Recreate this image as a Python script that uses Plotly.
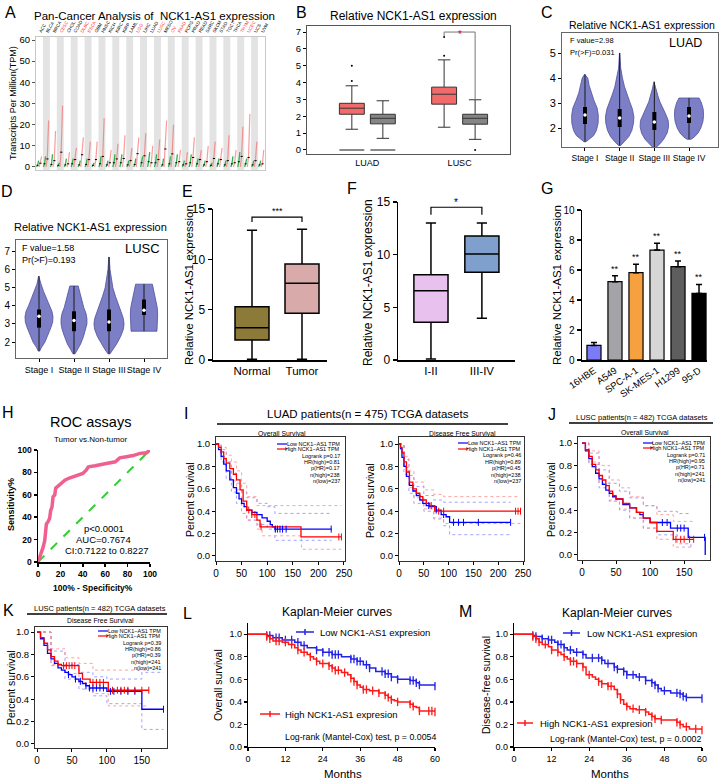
import plotly.graph_objects as go

W, H = 720, 783
FONT = "Liberation Sans, Arial, sans-serif"

# ===================== DATA =====================
# --- A: pan-cancer dot plot ---
pan_types = ["ACC", "BLCA", "BRCA", "CESC", "CHOL", "COAD", "DLBC", "ESCA", "GBM", "HNSC", "KICH",
             "KIRC", "KIRP", "LAML", "LGG", "LIHC", "LUAD", "LUSC", "MESO", "OV", "PAAD", "PCPG",
             "PRAD", "READ", "SARC", "SKCM", "STAD", "TGCT", "THCA", "THYM", "UCEC", "UCS", "UVM"]
pan_sig = ["CESC", "DLBC", "ESCA", "LGG", "LUSC", "OV", "PAAD", "THYM", "UCEC"]
pan_tumor_median = [1.8, 3.8, 3.0, 7.0, 1.5, 3.5, 5.8, 3.5, 3.5, 5.0, 2.0, 3.8, 4.0, 3.0, 6.3, 5.3, 2.0,
                    3.5, 8.5, 6.2, 2.5, 1.5, 4.5, 3.5, 2.5, 4.0, 3.5, 3.0, 2.0, 5.0, 4.5, 3.0, 1.5]
pan_tumor_max = [5, 22, 17, 29, 7, 9, 14, 12, 12, 23, 8, 11, 15, 9, 14, 16, 10, 13, 22, 20, 8, 7, 14, 8,
                 10, 12, 9, 15, 8, 19, 25, 12, 8]
pan_normal_median = [0.8, 1.5, 1.2, 0.8, 1.0, 1.5, 1.0, 1.2, 0.8, 1.5, 1.0, 2.0, 2.0, 1.0, 1.2, 2.0, 2.5,
                     2.0, 1.0, 1.5, 2.0, 1.0, 2.0, 1.5, 1.0, 0.8, 1.5, 1.0, 1.5, 2.5, 1.5, 1.0, 1.0]
pan_normal_max = [3, 5, 6, 2, 4, 4, 3, 4, 2, 5, 3, 6, 6, 3, 4, 5, 7, 6, 4, 5, 6, 3, 6, 4, 3, 2, 4, 3, 5, 7,
                  4, 3, 3]
pan_yticks = [0, 10, 20, 30, 40, 50, 60]

# --- B: GEPIA box plot ---
b_groups = ["LUAD", "LUSC"]
b_tumor_q1 = [2.12, 2.72]
b_tumor_median = [2.48, 3.31]
b_tumor_q3 = [2.77, 3.73]
b_tumor_low = [1.23, 1.35]
b_tumor_high = [3.81, 5.35]
b_normal_q1 = [1.55, 1.53]
b_normal_median = [1.88, 1.88]
b_normal_q3 = [2.12, 2.12]
b_normal_low = [0.69, 0.63]
b_normal_high = [2.92, 2.98]
b_tumor_outliers = [[4.1, 5.0], [5.6, 6.7]]
b_normal_outliers = [[], [0.0]]
b_zero_level = [0.0, None]   # zero-expression bar drawn under LUAD only
b_yticks = [0, 1, 2, 3, 4, 5, 6, 7]

# --- C: LUAD stage violins ---
stage_labels = ["Stage I", "Stage II", "Stage III", "Stage IV"]
c_violin_y = [[1.45, 1.55, 1.7, 1.9, 2.2, 2.5, 2.8, 3.1, 3.4, 3.7, 4.0, 4.15],
              [1.3, 1.45, 1.65, 1.9, 2.2, 2.45, 2.75, 3.05, 3.35, 3.65, 4.0, 4.4, 5.0],
              [1.2, 1.35, 1.55, 1.8, 2.05, 2.3, 2.55, 2.8, 3.05, 3.3, 3.55, 3.85],
              [1.55, 1.65, 1.8, 2.0, 2.25, 2.5, 2.75, 3.0, 3.2]]
c_violin_w = [[0.03, 0.12, 0.25, 0.33, 0.38, 0.385, 0.35, 0.26, 0.18, 0.12, 0.08, 0.01],
              [0.03, 0.14, 0.26, 0.35, 0.40, 0.41, 0.37, 0.29, 0.21, 0.14, 0.08, 0.03, 0.005],
              [0.03, 0.15, 0.27, 0.37, 0.41, 0.40, 0.33, 0.24, 0.16, 0.10, 0.06, 0.01],
              [0.06, 0.16, 0.26, 0.34, 0.40, 0.42, 0.41, 0.36, 0.29]]
c_q1 = [2.16, 2.04, 1.92, 2.2]
c_median = [2.52, 2.4, 2.24, 2.48]
c_q3 = [2.84, 2.76, 2.64, 2.84]

# --- D: LUSC stage violins ---
d_violin_y = [[1.5, 1.7, 2.0, 2.4, 2.8, 3.1, 3.4, 3.7, 4.0, 4.4, 4.8, 5.2, 5.65],
              [1.35, 1.6, 1.9, 2.3, 2.7, 3.0, 3.3, 3.6, 3.9, 4.3, 4.7, 5.1],
              [1.35, 1.6, 1.9, 2.3, 2.7, 3.0, 3.3, 3.7, 4.1, 4.5, 5.0, 5.5, 6.0, 6.7],
              [2.6, 3.0, 3.5, 3.9, 4.3, 4.7, 5.2]]
d_violin_w = [[0.02, 0.07, 0.17, 0.26, 0.34, 0.39, 0.40, 0.37, 0.30, 0.22, 0.13, 0.06, 0.01],
              [0.03, 0.10, 0.19, 0.27, 0.34, 0.37, 0.37, 0.34, 0.28, 0.22, 0.17, 0.12],
              [0.03, 0.12, 0.22, 0.33, 0.41, 0.43, 0.41, 0.34, 0.26, 0.19, 0.11, 0.06, 0.03, 0.005],
              [0.37, 0.38, 0.39, 0.38, 0.34, 0.29, 0.24]]
d_q1 = [2.8, 2.6, 2.6, 3.5]
d_median = [3.43, 3.19, 3.11, 3.76]
d_q3 = [3.8, 3.7, 3.8, 4.35]

# --- E: normal vs tumor ---
e_groups = ["Normal", "Tumor"]
e_q1 = [1.99, 4.64]
e_median = [3.21, 7.62]
e_q3 = [5.3, 9.54]
e_low = [0.07, 0.07]
e_high = [12.9, 13.0]
e_colors = ["#8B7A38", "#D9AAAA"]

# --- F: stage groups ---
f_groups = ["I-II", "III-IV"]
f_q1 = [3.59, 8.32]
f_median = [6.57, 10.06]
f_q3 = [8.1, 11.78]
f_low = [0.1, 3.97]
f_high = [13.0, 13.0]
f_colors = ["#E9C1EF", "#7F9FCD"]

# --- G: cell lines ---
g_cells = ["16HBE", "A549", "SPC-A-1", "SK-MES-1", "H1299", "95-D"]
g_values = [0.97, 5.22, 5.82, 7.33, 6.22, 4.44]
g_err = [0.19, 0.40, 0.56, 0.45, 0.38, 0.60]
g_colors = ["#7B7BF7", "#A3A3A8", "#F7A040", "#D6D6D6", "#5E5E5E", "#000000"]
g_sig = ["", "**", "**", "**", "**", "**"]

# --- H: ROC ---
roc_fpr = [0, 3, 4.5, 6, 7, 7.5, 9, 10.4, 11.3, 12.5, 13.4, 15, 15.8, 18, 21, 24, 28, 33, 37, 40, 43,
           45, 51, 55, 61, 69, 73, 79, 85, 91, 97, 100]
roc_tpr = [0, 7.5, 13, 19, 27, 34, 36, 39, 46, 49, 58, 60, 66, 68, 70, 73, 75, 77, 78, 79, 82, 85, 86,
           86.6, 88, 89.5, 93, 94, 95, 97, 97.6, 100]
roc_chance = [0, 100]

# --- I left: LUAD overall survival ---
luad_os_low_t = [0, 5, 10, 15, 20, 27, 34, 40, 45, 50, 55, 60, 70, 80, 90, 100, 106, 110, 115, 226]
luad_os_low_s = [1, 0.95, 0.89, 0.82, 0.76, 0.68, 0.61, 0.56, 0.51, 0.47, 0.44, 0.41, 0.39, 0.37, 0.34,
                 0.31, 0.28, 0.26, 0.24, 0.24]
luad_os_high_t = [0, 5, 10, 15, 20, 27, 34, 40, 47, 53, 60, 70, 80, 86, 166, 245]
luad_os_high_s = [1, 0.97, 0.93, 0.87, 0.83, 0.78, 0.73, 0.68, 0.59, 0.49, 0.41, 0.37, 0.32, 0.26, 0.17, 0.17]
luad_os_low_ci_t = [0, 10, 20, 30, 40, 50, 60, 80, 100, 115, 226]
luad_os_low_upper = [1, 0.95, 0.84, 0.74, 0.65, 0.57, 0.52, 0.47, 0.44, 0.38, 0.38]
luad_os_low_lower = [1, 0.84, 0.69, 0.57, 0.47, 0.38, 0.32, 0.28, 0.24, 0.14, 0.14]
luad_os_high_ci_t = [0, 10, 20, 30, 40, 50, 60, 80, 90, 167, 245]
luad_os_high_upper = [1, 0.97, 0.90, 0.84, 0.76, 0.65, 0.53, 0.45, 0.45, 0.45, 0.45]
luad_os_high_lower = [1, 0.89, 0.76, 0.67, 0.59, 0.44, 0.32, 0.24, 0.18, 0.06, 0.06]
luad_os_low_censor = [116, 120, 125, 130, 137, 225]
luad_os_high_censor = [64, 70, 76, 88, 240, 245]
luad_os_stats = ["Logrank p=0.17", "HR(high)=0.81", "p(HR)=0.17", "n(high)=238", "n(low)=237"]

# --- I right: LUAD disease free survival ---
luad_dfs_low_t = [0, 3, 6, 10, 15, 21, 28, 35, 42, 48, 55, 62, 75, 85, 95, 102, 225]
luad_dfs_low_s = [1, 0.96, 0.88, 0.80, 0.71, 0.63, 0.58, 0.54, 0.50, 0.47, 0.45, 0.44, 0.41, 0.37, 0.35,
                  0.30, 0.30]
luad_dfs_high_t = [0, 3, 6, 10, 15, 21, 28, 35, 42, 48, 55, 62, 72, 245]
luad_dfs_high_s = [1, 0.97, 0.92, 0.84, 0.75, 0.66, 0.60, 0.56, 0.53, 0.50, 0.47, 0.45, 0.40, 0.40]
luad_dfs_low_ci_t = [0, 10, 20, 30, 50, 70, 90, 102, 225]
luad_dfs_low_upper = [1, 0.86, 0.72, 0.62, 0.54, 0.50, 0.48, 0.48, 0.48]
luad_dfs_low_lower = [1, 0.73, 0.56, 0.47, 0.40, 0.33, 0.27, 0.19, 0.19]
luad_dfs_high_ci_t = [0, 10, 20, 30, 50, 70, 90, 245]
luad_dfs_high_upper = [1, 0.89, 0.76, 0.66, 0.59, 0.55, 0.53, 0.53]
luad_dfs_high_lower = [1, 0.79, 0.61, 0.52, 0.42, 0.34, 0.29, 0.29]
luad_dfs_low_censor = [60, 75, 90, 110, 120, 130, 160, 225]
luad_dfs_high_censor = [65, 80, 90, 235, 240, 245]
luad_dfs_stats = ["Logrank p=0.46", "HR(high)=0.89", "p(HR)=0.45", "n(high)=238", "n(low)=237"]

# --- J: LUSC overall survival ---
lusc_os_low_t = [0, 5, 10, 15, 20, 25, 30, 35, 40, 45, 50, 60, 70, 80, 85, 90, 100, 130, 156, 181, 181]
lusc_os_low_s = [1, 0.93, 0.86, 0.79, 0.73, 0.68, 0.63, 0.58, 0.55, 0.52, 0.50, 0.45, 0.42, 0.38, 0.36,
                 0.33, 0.29, 0.24, 0.157, 0.157, 0.0]
lusc_os_high_t = [0, 5, 10, 15, 20, 25, 30, 35, 40, 45, 50, 60, 70, 80, 90, 100, 110, 134, 164]
lusc_os_high_s = [1, 0.94, 0.88, 0.81, 0.76, 0.71, 0.67, 0.62, 0.57, 0.53, 0.50, 0.46, 0.42, 0.38, 0.33,
                  0.29, 0.21, 0.14, 0.14]
lusc_os_low_ci_t = [0, 10, 25, 40, 55, 70, 90, 110, 140, 160]
lusc_os_low_upper = [1, 0.91, 0.76, 0.64, 0.57, 0.51, 0.44, 0.39, 0.37, 0.37]
lusc_os_low_lower = [1, 0.81, 0.60, 0.48, 0.40, 0.33, 0.24, 0.18, 0.10, 0.05]
lusc_os_high_ci_t = [0, 10, 25, 40, 55, 70, 90, 110, 134, 164]
lusc_os_high_upper = [1, 0.93, 0.80, 0.67, 0.60, 0.52, 0.44, 0.36, 0.30, 0.30]
lusc_os_high_lower = [1, 0.83, 0.64, 0.49, 0.41, 0.33, 0.24, 0.14, 0.07, 0.07]
lusc_os_low_censor = [118, 125, 140, 145, 150, 180]
lusc_os_high_censor = [138, 145, 150, 158, 164]
lusc_os_stats = ["Logrank p=0.71", "HR(high)=0.95", "p(HR)=0.71", "n(high)=241", "n(low)=241"]

# --- K: LUSC disease free survival ---
lusc_dfs_low_t = [0, 5, 10, 15, 20, 25, 30, 35, 40, 45, 50, 55, 60, 65, 70, 75, 100, 150, 181]
lusc_dfs_low_s = [1, 0.94, 0.88, 0.81, 0.76, 0.72, 0.68, 0.66, 0.64, 0.62, 0.60, 0.58, 0.56, 0.54, 0.52,
                  0.50, 0.47, 0.31, 0.31]
lusc_dfs_high_t = [0, 5, 10, 15, 20, 25, 30, 35, 60, 65, 76, 102, 160]
lusc_dfs_high_s = [1, 0.95, 0.90, 0.84, 0.78, 0.74, 0.71, 0.70, 0.63, 0.58, 0.55, 0.48, 0.48]
lusc_dfs_low_ci_t = [0, 20, 40, 60, 80, 100, 150, 181]
lusc_dfs_low_upper = [1, 0.83, 0.71, 0.64, 0.60, 0.58, 0.64, 0.64]
lusc_dfs_low_lower = [1, 0.70, 0.58, 0.49, 0.43, 0.36, 0.13, 0.13]
lusc_dfs_high_ci_t = [0, 20, 40, 60, 80, 102, 160]
lusc_dfs_high_upper = [1, 0.85, 0.77, 0.72, 0.66, 0.66, 0.66]
lusc_dfs_high_lower = [1, 0.71, 0.63, 0.55, 0.45, 0.34, 0.34]
lusc_dfs_low_censor = [45, 55, 62, 70, 75, 80, 85, 90, 95, 105, 110, 120, 130, 140, 181]
lusc_dfs_high_censor = [38, 42, 46, 50, 54, 80, 85, 90, 95, 108, 115, 120, 125, 130, 140, 150, 160]
lusc_dfs_stats = ["Logrank p=0.39", "HR(high)=0.86", "p(HR)=0.39", "n(high)=241", "n(low)=241"]

gepia_x_ticks_250 = [0, 50, 100, 150, 200, 250]
gepia_x_ticks_150 = [0, 50, 100, 150]
surv_ticks = [0.0, 0.2, 0.4, 0.6, 0.8, 1.0]

# --- L: overall survival (cohort) ---
l_low_t = [0, 6, 8, 11, 15, 17, 19, 22, 24, 27, 30, 33, 35, 37, 39, 41, 44, 46, 48, 52, 54, 55, 60]
l_low_s = [1.0, 0.99, 0.97, 0.95, 0.93, 0.90, 0.88, 0.86, 0.84, 0.82, 0.80, 0.78, 0.76, 0.73, 0.70, 0.67,
           0.65, 0.62, 0.60, 0.59, 0.57, 0.55, 0.54]
l_high_t = [0, 6, 7, 8, 11, 13, 15, 16, 17, 19, 20, 21, 22, 23, 26, 27, 28, 30, 32, 33, 34, 35, 36, 37, 39,
            42, 44, 45, 46, 47, 48, 52, 53, 54, 55, 60]
l_high_s = [1.0, 0.98, 0.96, 0.94, 0.93, 0.91, 0.88, 0.86, 0.84, 0.82, 0.80, 0.78, 0.76, 0.74, 0.72, 0.70,
            0.68, 0.66, 0.64, 0.61, 0.58, 0.55, 0.53, 0.51, 0.50, 0.48, 0.46, 0.44, 0.42, 0.41, 0.40, 0.38,
            0.36, 0.35, 0.32, 0.31]
l_low_censor = [6, 7, 9, 10, 12, 14, 16, 18, 22, 24, 26, 27, 28, 29, 33, 34, 35, 36, 38, 39, 43, 44, 45,
                46, 48, 52, 53, 54, 55, 60]
l_high_censor = [6, 7, 9, 10, 12, 14, 16, 18, 20, 22, 24, 26, 27, 28, 29, 31, 33, 34, 35, 37, 38, 40, 42,
                 44, 45, 46, 48, 52, 53, 55, 58, 59, 60]

# --- M: disease-free survival (cohort) ---
m_low_t = [0, 6, 7, 9, 11, 13, 14, 16, 17, 19, 22, 23, 28, 29, 32, 33, 35, 36, 39, 42, 44, 45, 46, 47, 50,
           53, 54, 55, 60]
m_low_s = [1.0, 0.99, 0.98, 0.96, 0.95, 0.93, 0.91, 0.88, 0.86, 0.84, 0.82, 0.79, 0.77, 0.74, 0.71, 0.69,
           0.67, 0.64, 0.62, 0.59, 0.57, 0.55, 0.52, 0.50, 0.48, 0.47, 0.45, 0.44, 0.43]
m_high_t = [0, 6, 7, 8, 9, 11, 12, 14, 15, 16, 17, 18, 20, 22, 23, 25, 26, 27, 28, 30, 32, 33, 34, 35, 36,
            37, 39, 42, 43, 44, 45, 47, 52, 53, 54, 56, 60]
m_high_s = [1.0, 0.98, 0.96, 0.93, 0.91, 0.89, 0.86, 0.84, 0.82, 0.80, 0.78, 0.76, 0.74, 0.71, 0.64, 0.62,
            0.60, 0.58, 0.56, 0.54, 0.51, 0.47, 0.42, 0.38, 0.36, 0.34, 0.33, 0.31, 0.29, 0.27, 0.25, 0.24,
            0.22, 0.20, 0.18, 0.16, 0.15]
m_low_censor = [6, 7, 9, 11, 12, 14, 15, 16, 18, 20, 22, 25, 27, 28, 30, 32, 33, 35, 36, 38, 40, 42, 44,
                45, 46, 48, 52, 53, 54, 55, 60]
m_high_censor = [6, 7, 8, 10, 12, 14, 16, 18, 19, 20, 22, 24, 27, 28, 30, 31, 33, 34, 36, 38, 40, 42, 44,
                 45, 47, 52, 53, 55, 58, 60]
month_ticks = [0, 12, 24, 36, 48, 60]

# ===================== HELPERS =====================
fig = go.Figure()
annotations = []
shapes = []
axes = {}


def sid(n):
    return '' if n == 1 else str(n)


def ann(text, x, y, size, color='black', xanchor='center', yanchor='middle', angle=0):
    annotations.append(dict(text=text, x=x / W, y=1 - y / H, xref='paper', yref='paper',
                            showarrow=False, xanchor=xanchor, yanchor=yanchor, textangle=angle,
                            font=dict(size=size, color=color, family=FONT)))


def annd(n, text, x, y, size, color='black', yshift=0):
    annotations.append(dict(text=text, x=x, y=y, xref='x' + sid(n), yref='y' + sid(n), showarrow=False,
                            yshift=yshift, font=dict(size=size, color=color, family=FONT)))


def pline(x0, y0, x1, y1, color='black', width=1):
    shapes.append(dict(type='line', xref='paper', yref='paper', x0=x0 / W, y0=1 - y0 / H,
                       x1=x1 / W, y1=1 - y1 / H, line=dict(color=color, width=width)))


def tr(n, **kw):
    kw.setdefault('showlegend', False)
    kw.setdefault('hoverinfo', 'skip')
    fig.add_trace(go.Scatter(xaxis='x' + sid(n), yaxis='y' + sid(n), **kw))


def box(n, pos, q1, med, q3, lo, hi, width, fill, lc, lw=1.0, ww=0.5):
    fig.add_trace(go.Box(x=[pos], q1=[q1], median=[med], q3=[q3], lowerfence=[lo], upperfence=[hi],
                         orientation='v', width=width, fillcolor=fill, line=dict(color=lc, width=lw),
                         whiskerwidth=ww, boxpoints=False, showlegend=False, hoverinfo='skip',
                         xaxis='x' + sid(n), yaxis='y' + sid(n)))


def set_axes(n, xpx, ypx, xr, yr, xkw=None, ykw=None):
    base = dict(showgrid=False, zeroline=False, ticks='outside', ticklen=3, tickwidth=1, automargin=False,
                tickcolor='black', linecolor='black', linewidth=1, showline=True, fixedrange=True,
                tickfont=dict(family=FONT, size=10, color='black'))
    xa = dict(base)
    xa.update(domain=[xpx[0] / W, xpx[1] / W], range=xr, anchor='y' + sid(n))
    ya = dict(base)
    ya.update(domain=[1 - ypx[1] / H, 1 - ypx[0] / H], range=yr, anchor='x' + sid(n))
    if xkw:
        xa.update(xkw)
    if ykw:
        ya.update(ykw)
    axes['xaxis' + sid(n)] = xa
    axes['yaxis' + sid(n)] = ya


def step_val(ts, ss, t):
    v = ss[0]
    for a, b in zip(ts, ss):
        if a <= t:
            v = b
        else:
            break
    return v


def tf(size):
    return dict(family=FONT, size=size, color='black')


# ===================== A =====================
xs_g, ys_g, xs_r, ys_r, xs_m, ys_m = [], [], [], [], [], []
for i in range(len(pan_types)):
    xs_g += [i - 0.42, i - 0.27, i - 0.12, None]
    ys_g += [0, pan_normal_median[i], pan_normal_max[i], None]
    xs_r += [i - 0.05, i + 0.12, i + 0.32, None]
    ys_r += [0, pan_tumor_median[i], pan_tumor_max[i], None]
    xs_m += [i - 0.02, i + 0.3, None, i - 0.42, i - 0.14, None]
    ys_m += [pan_tumor_median[i], pan_tumor_median[i], None, pan_normal_median[i], pan_normal_median[i], None]
    if i % 2 == 1:
        shapes.append(dict(type='rect', xref='x', yref='y domain', x0=i - 0.5, x1=i + 0.5, y0=0, y1=1,
                           fillcolor='#E3E3E3', line=dict(width=0), layer='below'))
tr(1, x=xs_r, y=ys_r, mode='lines', line=dict(color='rgba(245,90,90,0.6)', width=1.2))
tr(1, x=xs_g, y=ys_g, mode='lines', line=dict(color='#2DB34A', width=1.3))
tr(1, x=xs_m, y=ys_m, mode='lines', line=dict(color='black', width=1))
pan_ticktext = ["<span style='color:#FF3030'>%s</span>" % t if t in pan_sig else t for t in pan_types]
set_axes(1, (36, 265), (37, 170), [-0.5, len(pan_types) - 0.5], [-1.42, 61.42],
         xkw=dict(tickvals=list(range(len(pan_types))), ticktext=pan_ticktext, side='top', tickangle=-60,
                  ticks='', tickfont=tf(4.5), linecolor='#C8C8C8', mirror=True),
         ykw=dict(tickvals=pan_yticks, tickfont=tf(9.5), linecolor='#C8C8C8', mirror=True, tickcolor='#555'))
ann("A", 10, 13, 16)
ann("Pan-Cancer Analysis of  NCK1-AS1 expression", 154, 16, 11.5)
ann("Transcripts Per Million(TPM)", 13, 103, 9, angle=-90)

# ===================== B =====================
b_off = 0.168
for k in range(2):
    pos = k + 1
    box(2, pos - b_off, b_tumor_q1[k], b_tumor_median[k], b_tumor_q3[k], b_tumor_low[k], b_tumor_high[k],
        0.27, '#F26B6B', '#333333', 1.0)
    box(2, pos + b_off, b_normal_q1[k], b_normal_median[k], b_normal_q3[k], b_normal_low[k],
        b_normal_high[k], 0.27, '#858585', '#333333', 1.0)
    if b_zero_level[k] is not None:
        for p in (pos - b_off, pos + b_off):
            box(2, p, b_zero_level[k], b_zero_level[k], b_zero_level[k], b_zero_level[k], b_zero_level[k],
                0.27, '#777777', '#666666', 1.5)
    tr(2, x=[pos - b_off] * len(b_tumor_outliers[k]), y=b_tumor_outliers[k], mode='markers',
       marker=dict(color='black', size=2))
    tr(2, x=[pos + b_off] * len(b_normal_outliers[k]), y=b_normal_outliers[k], mode='markers',
       marker=dict(color='black', size=2))
set_axes(2, (307, 510), (26, 154), [0.346, 2.546], [-0.24, 7.36],
         xkw=dict(tickvals=[1, 2], ticktext=b_groups, ticks='', tickfont=tf(9), mirror=True,
                  linecolor='#555'),
         ykw=dict(tickvals=b_yticks, tickfont=tf(9.5), mirror=True, linecolor='#555'))
shapes.append(dict(type='path', xref='x2', yref='y2', line=dict(color='#777', width=1),
                   path='M %f,%f L %f,%f L %f,%f L %f,%f' % (2 - b_off, 6.75, 2 - b_off, 7.0, 2 + b_off, 7.0,
                                                             2 + b_off, 3.0)))
annd(2, "*", 2, 7.0, 10, color='red', yshift=-2)
ann("B", 301, 12, 16)
ann("Relative NCK1-AS1 expression", 414, 16, 12)


# ===================== C & D violins =====================
def violins(n, ys_list, ws_list, q1s, meds, q3s):
    for k in range(4):
        pos = k + 1
        ys, ws = ys_list[k], ws_list[k]
        xs = [pos + w for w in ws] + [pos - w for w in reversed(ws)]
        yy = list(ys) + list(reversed(ys))
        tr(n, x=xs + [xs[0]], y=yy + [yy[0]], mode='lines', fill='toself', fillcolor='#7C7FC6',
           line=dict(color='#4E519E', width=0.8))
        tr(n, x=[pos, pos], y=[ys[0], ys[-1]], mode='lines', line=dict(color='#1a1a1a', width=1))
        tr(n, x=[pos, pos], y=[q1s[k], q3s[k]], mode='lines', line=dict(color='black', width=4))
        tr(n, x=[pos], y=[meds[k]], mode='markers', marker=dict(color='white', size=3.5))


violins(3, c_violin_y, c_violin_w, c_q1, c_median, c_q3)
set_axes(3, (562, 718), (33, 147), [0.337, 4.836], [1.24, 5.8],
         xkw=dict(tickvals=[1, 2, 3, 4], ticktext=stage_labels, tickfont=tf(8.5), tickangle=0,
                  mirror=True, linecolor='#666'),
         ykw=dict(tickvals=[2, 3, 4, 5], tickfont=tf(11), mirror=True, linecolor='#666'))
ann("C", 547, 13, 16)
ann("Relative NCK1-AS1 expression", 642, 25, 10.5)
ann("F value=2.98", 568, 40, 7.5, xanchor='left')
ann("Pr(>F)=0.031", 568, 52, 7.5, xanchor='left')
ann("LUAD", 685, 43, 12.5)

violins(4, d_violin_y, d_violin_w, d_q1, d_median, d_q3)
set_axes(4, (16, 167), (240, 358), [0.343, 4.657], [1.12, 7.64],
         xkw=dict(tickvals=[1, 2, 3, 4], ticktext=stage_labels, tickfont=tf(9), tickangle=0,
                  mirror=True, linecolor='#666'),
         ykw=dict(tickvals=[2, 3, 4, 5, 6, 7], tickfont=tf(10), mirror=True, linecolor='#666'))
ann("D", 7, 192, 16)
ann("Relative NCK1-AS1 expression", 90, 227, 11)
ann("F value=1.58", 20, 248, 9, xanchor='left')
ann("Pr(>F)=0.193", 20, 260, 9, xanchor='left')
ann("LUSC", 142, 248, 13)

# ===================== E =====================
for k in range(2):
    box(5, k, e_q1[k], e_median[k], e_q3[k], e_low[k], e_high[k], 0.68, e_colors[k], 'black', 1.5, 0.3)
set_axes(5, (213, 327), (209, 360), [-0.78, 1.5], [0, 15],
         xkw=dict(tickvals=[0, 1], ticktext=e_groups, ticks='', tickfont=tf(11.5), linewidth=1.5),
         ykw=dict(tickvals=[0, 5, 10, 15], tickfont=tf(12), linewidth=1.5, tickwidth=1.5, ticklen=4))
shapes.append(dict(type='path', xref='x5', yref='y5', line=dict(color='black', width=1.2),
                   path='M 0,13.7 L 0,14.2 L 1,14.2 L 1,13.7'))
annd(5, "***", 0.5, 14.2, 9, yshift=6)
ann("E", 187, 192, 16)
ann("Relative NCK1-AS1 expression", 189, 285, 11.5, angle=-90)

# ===================== F =====================
for k in range(2):
    box(6, k, f_q1[k], f_median[k], f_q3[k], f_low[k], f_high[k], 0.67, f_colors[k], 'black', 1.5, 0.3)
set_axes(6, (398, 515), (202, 360), [-0.647, 1.65], [0, 15],
         xkw=dict(tickvals=[0, 1], ticktext=f_groups, ticks='', tickfont=tf(11.5), linewidth=1.5),
         ykw=dict(tickvals=[0, 5, 10, 15], tickfont=tf(12), linewidth=1.5, tickwidth=1.5, ticklen=4))
shapes.append(dict(type='path', xref='x6', yref='y6', line=dict(color='black', width=1.2),
                   path='M 0,13.8 L 0,14.5 L 1,14.5 L 1,13.8'))
annd(6, "*", 0.5, 14.5, 10, yshift=5)
ann("F", 352, 188, 16)
ann("Relative NCK1-AS1 expression", 368, 283, 12, angle=-90)

# ===================== G =====================
fig.add_trace(go.Bar(x=list(range(len(g_cells))), y=g_values, width=0.67,
                     marker=dict(color=g_colors, line=dict(color='black', width=1.2)),
                     error_y=dict(type='data', symmetric=False, array=g_err,
                                  arrayminus=[0] * len(g_err), color='black', thickness=1.5, width=3),
                     xaxis='x7', yaxis='y7', showlegend=False, hoverinfo='skip'))
for i in range(len(g_cells)):
    if g_sig[i]:
        annd(7, g_sig[i], i, g_values[i] + g_err[i], 9, yshift=7)
set_axes(7, (582, 707), (210, 360), [-0.57, 5.38], [0, 10],
         xkw=dict(tickvals=list(range(len(g_cells))), ticktext=g_cells, ticks='', tickangle=-35,
                  tickfont=tf(9.5), linewidth=1.5),
         ykw=dict(tickvals=[0, 2, 4, 6, 8, 10], tickfont=tf(10), linewidth=1.5, tickwidth=1.5, ticklen=4))
ann("G", 547, 188, 16)
ann("Relative NCK1-AS1 expression", 557, 285, 11.5, angle=-90)

# ===================== H =====================
tr(8, x=roc_chance, y=roc_chance, mode='lines', line=dict(color='#33CC33', width=2, dash='dash'))
tr(8, x=roc_fpr, y=roc_tpr, mode='lines', line=dict(color='#F0608E', width=3.5), cliponaxis=False)
h_ticks = [0, 20, 40, 60, 80, 100]
set_axes(8, (38, 150), (450, 562), [0, 100], [0, 100],
         xkw=dict(tickvals=h_ticks, ticktext=['<b>%d</b>' % v for v in h_ticks], tickfont=tf(8.5),
                  linewidth=1.5, tickwidth=1.5),
         ykw=dict(tickvals=h_ticks, ticktext=['<b>%d</b>' % v for v in h_ticks], tickfont=tf(8.5),
                  linewidth=1.5, tickwidth=1.5))
ann("H", 8, 412, 16)
ann("ROC assays", 90, 422, 14.5)
ann("Tumor vs.Non-tumor", 90, 439, 8)
ann("<b>Sensitivity%</b>", 11, 505, 9, angle=-90)
ann("<b>100% - Specificity%</b>", 93, 588, 8.5)
ann("p<0.0001", 104, 528, 9.5)
ann("AUC=0.7674", 103, 539, 9.5)
ann("CI:0.7122 to 0.8227", 106, 550, 9.5)


# ===================== GEPIA KM (I, J, K) =====================
def gepia(n, low_t, low_s, high_t, high_s, lci_t, l_up, l_lo, hci_t, h_up, h_lo, l_cens, h_cens):
    for t, u, lo, c in ((lci_t, l_up, l_lo, '#8A8AFF'), (hci_t, h_up, h_lo, '#FF8A8A')):
        tr(n, x=t, y=u, mode='lines', line=dict(color=c, width=0.8, dash='dot', shape='hv'))
        tr(n, x=t, y=lo, mode='lines', line=dict(color=c, width=0.8, dash='dot', shape='hv'))
    tr(n, x=low_t, y=low_s, mode='lines', line=dict(color='#0000FF', width=1.3, shape='hv'))
    tr(n, x=high_t, y=high_s, mode='lines', line=dict(color='#FF0000', width=1.3, shape='hv'))
    tr(n, x=l_cens, y=[step_val(low_t, low_s, t) for t in l_cens], mode='markers',
       marker=dict(symbol='line-ns', size=5, line=dict(color='#0000FF', width=1)))
    tr(n, x=h_cens, y=[step_val(high_t, high_s, t) for t in h_cens], mode='markers',
       marker=dict(symbol='line-ns', size=5, line=dict(color='#FF0000', width=1)))


def gepia_legend(xl0, xt_right, rows, stats):
    pline(xl0, rows[0], xl0 + 10, rows[0], '#0000FF', 1.2)
    pline(xl0, rows[1], xl0 + 10, rows[1], '#FF0000', 1.2)
    ann("Low NCK1\u2212AS1 TPM", xt_right, rows[0], 5.5, xanchor='right')
    ann("High NCK1\u2212AS1 TPM", xt_right, rows[1], 5.5, xanchor='right')
    for r, s in zip(rows[2:], stats):
        ann(s, xt_right, r, 5.5, xanchor='right')


def gepia_axes(n, xpx, ypx, xr, yr, xt):
    set_axes(n, xpx, ypx, xr, yr,
             xkw=dict(tickvals=xt, tickfont=tf(10), mirror=True, linecolor='#333'),
             ykw=dict(tickvals=surv_ticks, tickformat='.1f', tickfont=tf(9.5), mirror=True,
                      linecolor='#333'))


gepia(9, luad_os_low_t, luad_os_low_s, luad_os_high_t, luad_os_high_s, luad_os_low_ci_t,
      luad_os_low_upper, luad_os_low_lower, luad_os_high_ci_t, luad_os_high_upper, luad_os_high_lower,
      luad_os_low_censor, luad_os_high_censor)
gepia_axes(9, (216, 345), (437, 561), [0, 252], [-0.045, 1.0625], gepia_x_ticks_250)
gepia_legend(277, 342, [444, 449, 456, 462, 468, 475, 481], luad_os_stats)

gepia(10, luad_dfs_low_t, luad_dfs_low_s, luad_dfs_high_t, luad_dfs_high_s, luad_dfs_low_ci_t,
      luad_dfs_low_upper, luad_dfs_low_lower, luad_dfs_high_ci_t, luad_dfs_high_upper, luad_dfs_high_lower,
      luad_dfs_low_censor, luad_dfs_high_censor)
gepia_axes(10, (399, 524), (437, 561), [0, 252], [-0.045, 1.0625], gepia_x_ticks_250)
gepia_legend(458, 523, [443, 449, 455, 462, 468, 475, 481], luad_dfs_stats)

ann("I", 186, 413, 16)
ann("LUAD patients(n = 475) TCGA datasets", 368, 414, 11.5)
pline(217, 424, 508, 424, 'black', 1.5)
ann("Overall Survival", 282, 433, 6.8)
ann("Disease Free Survival", 462, 433, 6.8)
ann("Percent survival", 190, 500, 10.5, angle=-90)
ann("Percent survival", 370, 500, 10.5, angle=-90)

gepia(11, lusc_os_low_t, lusc_os_low_s, lusc_os_high_t, lusc_os_high_s, lusc_os_low_ci_t,
      lusc_os_low_upper, lusc_os_low_lower, lusc_os_high_ci_t, lusc_os_high_upper, lusc_os_high_lower,
      lusc_os_low_censor, lusc_os_high_censor)
gepia_axes(11, (578, 710), (437, 560), [-5.9, 188], [-0.045, 1.054], gepia_x_ticks_150)
gepia_legend(643, 707, [443, 448, 455, 461, 467, 474, 480], lusc_os_stats)
ann("J", 552, 415, 16)
ann("LUSC patients(n = 482) TCGA datasets", 642, 417, 7.5)
pline(569, 423, 713, 423, 'black', 1.5)
ann("Overall Survival", 645, 432, 6.8)
ann("Percent survival", 551, 500, 10.5, angle=-90)

gepia(12, lusc_dfs_low_t, lusc_dfs_low_s, lusc_dfs_high_t, lusc_dfs_high_s, lusc_dfs_low_ci_t,
      lusc_dfs_low_upper, lusc_dfs_low_lower, lusc_dfs_high_ci_t, lusc_dfs_high_upper, lusc_dfs_high_lower,
      lusc_dfs_low_censor, lusc_dfs_high_censor)
gepia_axes(12, (35, 167), (627, 748), [-2.9, 186], [-0.036, 1.045], gepia_x_ticks_150)
gepia_legend(98, 163, [631, 636, 643, 649, 655, 662, 668], lusc_dfs_stats)
ann("K", 8, 610, 16)
ann("LUSC patients(n = 482) TCGA datasets", 100, 608, 7.5)
pline(27, 614, 167, 614, 'black', 1.5)
ann("Disease Free Survival", 100, 620, 6.8)
ann("Percent survival", 11, 688, 10.5, angle=-90)


# ===================== L & M =====================
def km(n, low_t, low_s, high_t, high_s, low_c, high_c):
    for t, s, c, cens in ((low_t, low_s, '#2323E6', low_c), (high_t, high_s, '#FF1A1A', high_c)):
        tr(n, x=t, y=s, mode='lines', line=dict(color=c, width=1.5, shape='hv'), cliponaxis=False)
        tr(n, x=cens, y=[step_val(t, s, v) for v in cens], mode='markers', cliponaxis=False,
           marker=dict(symbol='line-ns', size=6, line=dict(color=c, width=1.3)))


def km_axes(n, xpx):
    set_axes(n, xpx, (623, 747), [0, 60], [0, 1.1],
             xkw=dict(tickvals=month_ticks, tickfont=tf(9), linewidth=1.3, tickwidth=1.3),
             ykw=dict(tickvals=surv_ticks, tickformat='.1f', tickfont=tf(9), linewidth=1.3, tickwidth=1.3))


def km_legend_mark(x0, x1, y, color):
    pline(x0, y, x1, y, color, 1.5)
    xm = (x0 + x1) / 2
    pline(xm, y - 3, xm, y + 3, color, 1.5)


km(13, l_low_t, l_low_s, l_high_t, l_high_s, l_low_censor, l_high_censor)
km_axes(13, (248, 435))
ann("L", 187, 613, 16)
ann("Kaplan-Meier curves", 337, 612, 12)
ann("Overall survival", 218, 685, 10.5, angle=-90)
ann("Months", 343, 774, 11.5)
km_legend_mark(296, 314, 632, '#2323E6')
ann("Low NCK1-AS1 expresion", 318, 632, 9.5, xanchor='left')
km_legend_mark(260, 280, 714, '#FF1A1A')
ann("High NCK1-AS1 expresion", 283, 714, 9.5, xanchor='left')
ann("Log-rank (Mantel-Cox) test, p = 0.0054", 438, 737, 8.8, xanchor='right')

km(14, m_low_t, m_low_s, m_high_t, m_high_s, m_low_censor, m_high_censor)
km_axes(14, (514, 702))
ann("M", 465, 611, 16)
ann("Kaplan-Meier curves", 617, 613, 12)
ann("Disease-free survival", 486, 685, 10.5, angle=-90)
ann("Months", 610, 774, 11.5)
km_legend_mark(563, 580, 633, '#2323E6')
ann("Low NCK1-AS1 expresion", 585, 633, 9.5, xanchor='left')
km_legend_mark(517, 533, 723, '#FF1A1A')
ann("High NCK1-AS1 expresion", 538, 723, 9.5, xanchor='left')
ann("Log-rank (Mantel-Cox) test, p = 0.0002", 703, 739, 8.8, xanchor='right')

# ===================== LAYOUT =====================
fig.update_layout(width=W, height=H, margin=dict(l=0, r=0, t=0, b=0),
                  paper_bgcolor='white', plot_bgcolor='white', showlegend=False, hovermode=False,
                  font=dict(family=FONT, color='black'), annotations=annotations, shapes=shapes,
                  boxmode='overlay', **axes)
fig.write_html("out.html", config={'displayModeBar': False, 'staticPlot': True},
               post_script="document.body.style.margin='0';document.body.style.overflow='hidden';")
